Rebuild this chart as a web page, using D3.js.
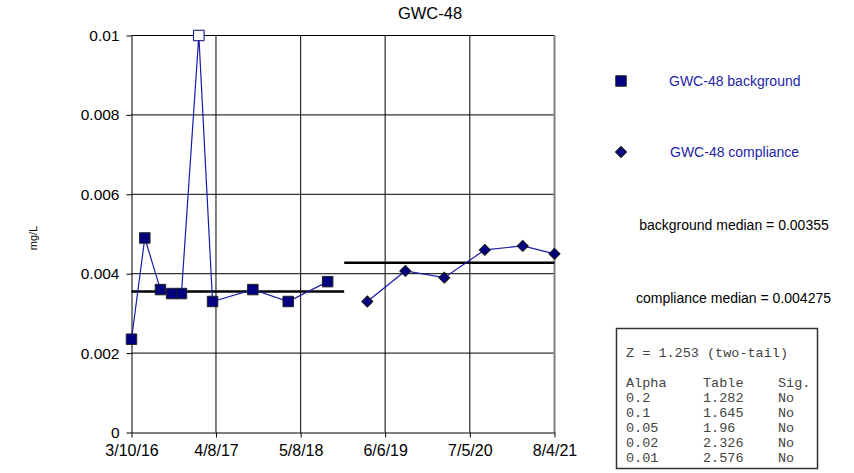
<!DOCTYPE html>
<html><head><meta charset="utf-8">
<script src="https://cdn.jsdelivr.net/npm/d3@7/dist/d3.min.js"></script>
<style>body{margin:0;background:#fff}svg{display:block}</style>
</head><body><svg id="c" width="854" height="473"></svg>
<script>
const title = "GWC-48";
const bgDates = ["2016-03-10","2016-05-11","2016-07-23","2016-09-13","2016-10-29","2017-01-18","2017-03-23","2017-09-27","2018-03-11","2018-09-11"];
const bgValues = [0.00235,0.0049,0.0036,0.0035,0.0035,0.01,0.0033,0.0036,0.0033,0.0038];
const bgHollow = [false,false,false,false,false,true,false,false,false,false];
const compDates = ["2019-03-15","2019-09-08","2020-03-08","2020-09-13","2021-03-09","2021-08-04"];
const compValues = [0.0033,0.00407,0.0039,0.0046,0.0047,0.0045];
const bgMedian = 0.00355, compMedian = 0.004275;
const bgMedianSpan = ["2016-03-10","2018-11-27"];
const compMedianSpan = ["2018-11-27","2021-08-04"];
const xTickDates = ["2016-03-10","2017-04-08","2018-05-08","2019-06-06","2020-07-05","2021-08-04"];
const xTickLabels = ["3/10/16","4/8/17","5/8/18","6/6/19","7/5/20","8/4/21"];
const yTicks = [0,0.002,0.004,0.006,0.008,0.01];
const yTickLabels = ["0","0.002","0.004","0.006","0.008","0.01"];
const legendLabels = ["GWC-48 background","GWC-48 compliance"];
const statsLines = ["background median = 0.00355","compliance median = 0.004275"];
const zLine = "Z = 1.253 (two-tail)";
const tableHeader = ["Alpha","Table","Sig."];
const tableAlpha = ["0.2","0.1","0.05","0.02","0.01"];
const tableCrit = ["1.282","1.645","1.96","2.326","2.576"];
const tableSig = ["No","No","No","No","No"];

const P = d3.timeParse("%Y-%m-%d");
const svg = d3.select("#c");
const L=131.5, R=554.5, T=35.5, B=432.5;
const x = d3.scaleTime().domain([P(xTickDates[0]), P(xTickDates[5])]).range([L,R]);
const y = d3.scaleLinear().domain([0,0.01]).range([B,T]);
const F = "Arial, 'Liberation Sans', sans-serif";

// gridlines
const g = svg.append("g");
g.selectAll(".hg").data(yTicks.slice(1)).join("line")
  .attr("x1",L).attr("x2",R).attr("y1",d=>y(d)).attr("y2",d=>y(d))
  .attr("stroke","#000").attr("stroke-width",1);
g.selectAll(".vg").data(xTickDates.slice(1,5)).join("line")
  .attr("x1",d=>x(P(d))).attr("x2",d=>x(P(d))).attr("y1",T).attr("y2",B)
  .attr("stroke","#000").attr("stroke-width",1);
g.append("line").attr("x1",R).attr("x2",R).attr("y1",T).attr("y2",B).attr("stroke","#808080").attr("stroke-width",2);

// axes
const xa = d3.axisBottom(x).tickValues(xTickDates.map(P)).tickFormat((d,i)=>xTickLabels[i]).tickSize(5).tickSizeOuter(0);
const xg = svg.append("g").attr("transform",`translate(0,${B})`).call(xa);
xg.select(".domain").attr("stroke","#000");
xg.selectAll("text").attr("font-family",F).attr("font-size",16).attr("fill","#000").attr("dy","0.95em");
const ya = d3.axisLeft(y).tickValues(yTicks).tickFormat((d,i)=>yTickLabels[i]).tickSize(5).tickSizeOuter(0);
const yg = svg.append("g").attr("transform",`translate(${L},0)`).call(ya);
yg.selectAll("text").attr("font-family",F).attr("font-size",15.5).attr("fill","#000").attr("x",-12);

// title, y label
svg.append("text").attr("x",430).attr("y",19).attr("text-anchor","middle").attr("font-family",F).attr("font-size",16.5).text(title);
svg.append("text").attr("transform","translate(37,238) rotate(-90)").attr("text-anchor","middle").attr("font-family",F).attr("font-size",11).text("mg/L");

// median lines
svg.append("line").attr("x1",x(P(bgMedianSpan[0]))).attr("x2",x(P(bgMedianSpan[1]))).attr("y1",y(bgMedian)).attr("y2",y(bgMedian)).attr("stroke","#000").attr("stroke-width",2.5);
svg.append("line").attr("x1",x(P(compMedianSpan[0]))).attr("x2",x(P(compMedianSpan[1]))).attr("y1",y(compMedian)).attr("y2",y(compMedian)).attr("stroke","#000").attr("stroke-width",2.5);

// series lines
const lineColor = "#1a1aa8";
const bg = bgDates.map((d,i)=>({d:P(d),v:bgValues[i],h:bgHollow[i]}));
const cp = compDates.map((d,i)=>({d:P(d),v:compValues[i]}));
const ln = d3.line().x(p=>x(p.d)).y(p=>y(p.v));
svg.append("path").attr("d",ln(bg)).attr("fill","none").attr("stroke",lineColor).attr("stroke-width",1.2);
svg.append("path").attr("d",ln(cp)).attr("fill","none").attr("stroke",lineColor).attr("stroke-width",1.2);

const sq = d3.symbol().type(d3.symbolSquare).size(110);
const dm = d3.symbol().type(d3.symbolSquare).size(60);
svg.selectAll(".bgm").data(bg).join("path").attr("d",sq)
  .attr("transform",p=>`translate(${x(p.d)},${y(p.v)})`)
  .attr("fill",p=>p.h?"#fff":"#000080").attr("stroke",p=>p.h?"#000080":"#222").attr("stroke-width",1);
svg.selectAll(".cpm").data(cp).join("path").attr("d",dm)
  .attr("transform",p=>`translate(${x(p.d)},${y(p.v)}) rotate(45)`)
  .attr("fill","#000080").attr("stroke","#111").attr("stroke-width",1);

// legend
svg.append("path").attr("d",sq).attr("transform","translate(621,81)").attr("fill","#000080").attr("stroke","#222");
svg.append("path").attr("d",dm).attr("transform","translate(621,152) rotate(45)").attr("fill","#000080").attr("stroke","#111");
svg.append("text").attr("x",669).attr("y",86).attr("font-family",F).attr("font-size",14).attr("fill","#2424a8").text(legendLabels[0]);
svg.append("text").attr("x",670).attr("y",157).attr("font-family",F).attr("font-size",14).attr("fill","#2424a8").text(legendLabels[1]);

// stats
svg.append("text").attr("x",734).attr("y",230).attr("text-anchor","middle").attr("font-family",F).attr("font-size",14).text(statsLines[0]);
svg.append("text").attr("x",733.5).attr("y",302.5).attr("text-anchor","middle").attr("font-family",F).attr("font-size",14).text(statsLines[1]);

// table box
svg.append("rect").attr("x",616.5).attr("y",328.5).attr("width",201).attr("height",140).attr("fill","#fff").attr("stroke","#333").attr("stroke-width",1.5);
const M = "'Liberation Mono','Courier New',monospace";
const tg = svg.append("g").attr("font-family",M).attr("font-size",13.5).attr("fill","#444");
tg.append("text").attr("x",626).attr("y",357).text(zLine);
const cols=[626,703,778];
tableHeader.forEach((h,i)=>tg.append("text").attr("x",cols[i]).attr("y",387).text(h));
tableAlpha.forEach((a,r)=>{
  const yy = 402 + r*15;
  tg.append("text").attr("x",cols[0]).attr("y",yy).text(a);
  tg.append("text").attr("x",cols[1]).attr("y",yy).text(tableCrit[r]);
  tg.append("text").attr("x",cols[2]).attr("y",yy).text(tableSig[r]);
});
</script></body></html>
